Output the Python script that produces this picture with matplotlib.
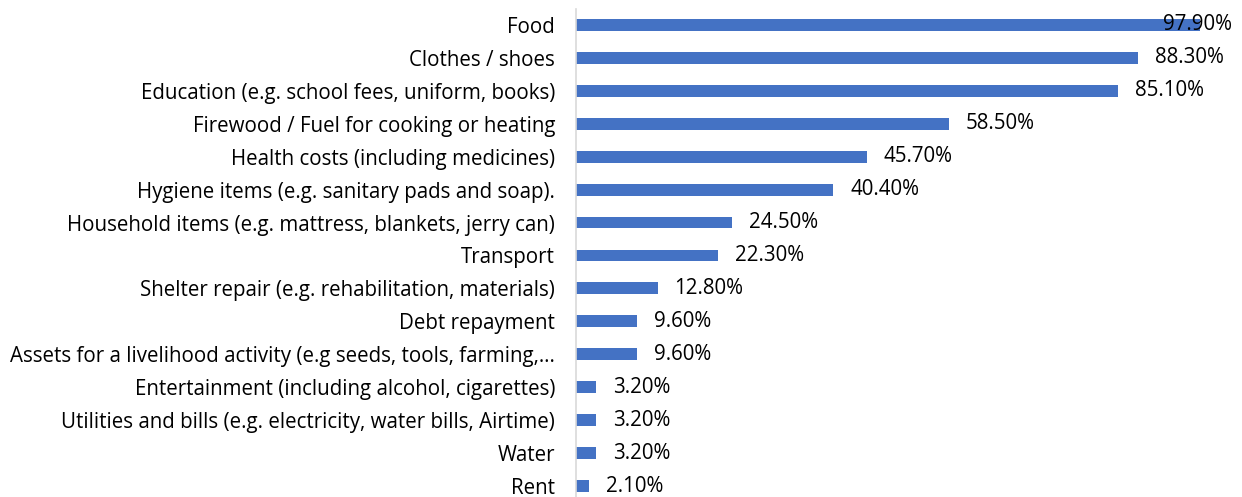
import matplotlib
matplotlib.use("Agg")
import matplotlib.pyplot as plt

categories = [
    "Food",
    "Clothes / shoes",
    "Education (e.g. school fees, uniform, books)",
    "Firewood / Fuel for cooking or heating",
    "Health costs (including medicines)",
    "Hygiene items (e.g. sanitary pads and soap).",
    "Household items (e.g. mattress, blankets, jerry can)",
    "Transport",
    "Shelter repair (e.g. rehabilitation, materials)",
    "Debt repayment",
    "Assets for a livelihood activity (e.g seeds, tools, farming,\u2026",
    "Entertainment (including alcohol, cigarettes)",
    "Utilities and bills (e.g. electricity, water bills, Airtime)",
    "Water",
    "Rent",
]
values = [0.979, 0.883, 0.851, 0.585, 0.457, 0.404, 0.245, 0.223, 0.128,
          0.096, 0.096, 0.032, 0.032, 0.032, 0.021]
labels = ["97.90%", "88.30%", "85.10%", "58.50%", "45.70%", "40.40%", "24.50%",
          "22.30%", "12.80%", "9.60%", "9.60%", "3.20%", "3.20%", "3.20%", "2.10%"]

plt.rcParams["font.family"] = ["Open Sans", "DejaVu Sans"]
fs = 14.8

fig = plt.figure(figsize=(12.42, 4.97), dpi=100)
ax = fig.add_axes([576 / 1242, 0.0, (1213 - 576) / 1242, 1 - 8.5 / 497])

n = len(categories)
ypos = list(range(n - 1, -1, -1))
ax.barh(ypos, values, height=0.36, color="#4472C4")

for y, v, lab in zip(ypos, values, labels):
    if v > 0.95:
        # Excel pushes the label back inside the plot area
        ax.annotate(lab, (1.0, y), xytext=(14, 0), textcoords="offset points",
                    ha="right", va="center", fontsize=fs, color="black")
    else:
        ax.annotate(lab, (v, y), xytext=(12, 0), textcoords="offset points",
                    ha="left", va="center", fontsize=fs, color="black")

ax.set_xlim(0, 1.0)
ax.set_ylim(-0.334, n - 0.5)
ax.set_yticks(ypos)
ax.set_yticklabels(categories, fontsize=fs)
ax.tick_params(axis="y", length=0, pad=15)
ax.set_xticks([])
for s in ["top", "right", "bottom"]:
    ax.spines[s].set_visible(False)
ax.spines["left"].set_color("#D9D9D9")
ax.spines["left"].set_linewidth(1.2)

fig.savefig("out.png", dpi=100)
